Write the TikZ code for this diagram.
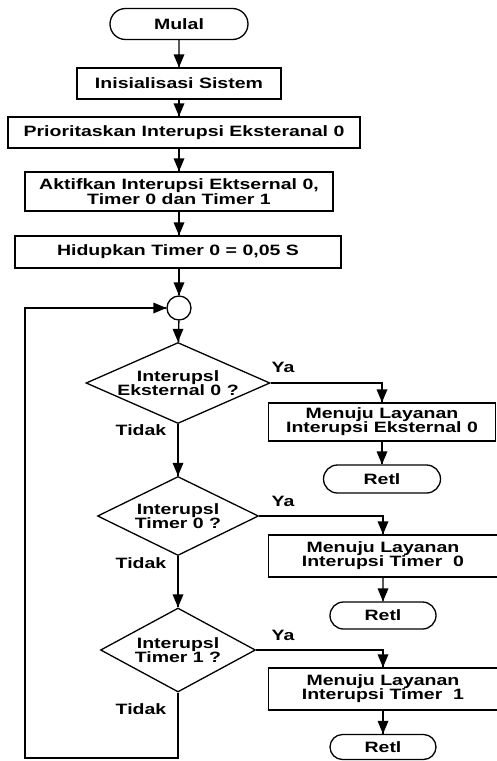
\documentclass[tikz,border=0pt]{standalone}
\usepackage{fontspec}
\setmainfont{Liberation Sans}[FakeStretch=1.3]
\usetikzlibrary{shapes.geometric,shapes.misc}
\newcommand\tipdown[1]{\fill #1 -- ++(-5.5,-13) -- ++(11,0) -- cycle;}
\newcommand\tipright[1]{\fill #1 -- ++(-13,-5.5) -- ++(0,11) -- cycle;}
\begin{document}
\begin{tikzpicture}[x=1pt,y=-1pt,
  every node/.style={font=\bfseries\fontsize{15}{14}\selectfont, align=center, inner sep=0pt},
  arr/.style={draw, line width=1.4pt},
  proc/.style={draw, rectangle, line width=1.3pt},
  term/.style={draw, rounded rectangle, line width=1.3pt},
  dec/.style={draw, diamond, shape aspect=2.3, line width=1.3pt},
  lbl/.style={font=\bfseries\fontsize{15}{14}\selectfont}]
\useasboundingbox (0,0) rectangle (497,761);
% main column
\node[term, minimum width=138, minimum height=31] (start) at (179,24) {Mulal};
\node[proc, minimum width=204, minimum height=31] (init) at (179,83.5) {Inisialisasi Sistem};
\node[proc, minimum width=352, minimum height=31] (prio) at (184,132.5) {Prioritaskan Interupsi Eksteranal 0};
\node[proc, minimum width=308, minimum height=39, font=\bfseries\fontsize{15}{12.5}\selectfont] (aktif) at (179,191.5) {Aktifkan Interupsi Ektsernal 0,\\Timer 0 dan Timer 1};
\node[proc, minimum width=326, minimum height=32] (hidup) at (178,252) {Hidupkan Timer 0 = 0,05 S};
\node[draw, circle, line width=1.3pt, minimum size=24] (junc) at (179,308) {};
% decisions
\node[dec, minimum width=184, minimum height=81] (d1) at (178,383) {Interupsl\\Eksternal 0 ?};
\node[dec, minimum width=161, minimum height=79] (d2) at (178,516) {Interupsl\\Timer 0 ?};
\node[dec, minimum width=155, minimum height=84] (d3) at (178,650) {Interupsl\\Timer 1 ?};
% service boxes
\node[proc, minimum width=227, minimum height=38] (s1) at (382,422) {Menuju Layanan\\Interupsi Eksternal 0};
\node[term, minimum width=117, minimum height=28] (r1) at (382,479) {Retl};
\node[proc, minimum width=229, minimum height=42] (s2) at (383,556) {Menuju Layanan\\Interupsi Timer\ \ 0};
\node[term, minimum width=106, minimum height=27] (r2) at (383,615.5) {Retl};
\node[proc, minimum width=229, minimum height=42] (s3) at (383,689) {Menuju Layanan\\Interupsi Timer\ \ 1};
\node[term, minimum width=106, minimum height=25] (r3) at (383,747) {Retl};
% labels
\node[lbl] (ya1) at (283,367) {Ya};
\node[lbl] (ya2) at (283,501) {Ya};
\node[lbl] (ya3) at (283,635) {Ya};
\node[lbl] (no1) at (141,430) {Tidak};
\node[lbl] (no2) at (141,563) {Tidak};
\node[lbl] (no3) at (141,709) {Tidak};
% connectors
\draw[arr] (start) -- (init);
\draw[arr] (init) -- (init |- prio.north);
\draw[arr] (init |- prio.south) -- (init |- aktif.north);
\draw[arr] (aktif) -- (aktif |- hidup.north);
\draw[arr] (hidup.south -| junc) -- (junc);
\draw[arr] (junc) -- (d1);
\draw[arr] (d1.east) -| (s1.north);
\draw[arr] (s1) -- (r1);
\draw[arr] (d1) -- (d2);
\draw[arr] (d2.east) -| (s2.north);
\draw[arr] (s2) -- (r2);
\draw[arr] (d2) -- (d3);
\draw[arr] (d3.east) -| (s3.north);
\draw[arr] (s3) -- (r3);
\coordinate (lpA) at (178,758);
\coordinate (lpB) at (25,758);
\draw[arr] (d3.south) -- (lpA) -- (lpB) |- (junc.west);
% arrowheads
\tipdown{(init.north)}
\tipdown{(init |- prio.north)}
\tipdown{(init |- aktif.north)}
\tipdown{(aktif |- hidup.north)}
\tipdown{(junc.north)}
\tipdown{(d1.north)}
\tipdown{(d2.north)}
\tipdown{(d3.north)}
\tipdown{(s1.north)}
\tipdown{(s2.north)}
\tipdown{(s3.north)}
\tipdown{(r1.north)}
\tipdown{(r2.north)}
\tipdown{(r3.north)}
\tipright{(junc.west)}
\end{tikzpicture}
\end{document}
